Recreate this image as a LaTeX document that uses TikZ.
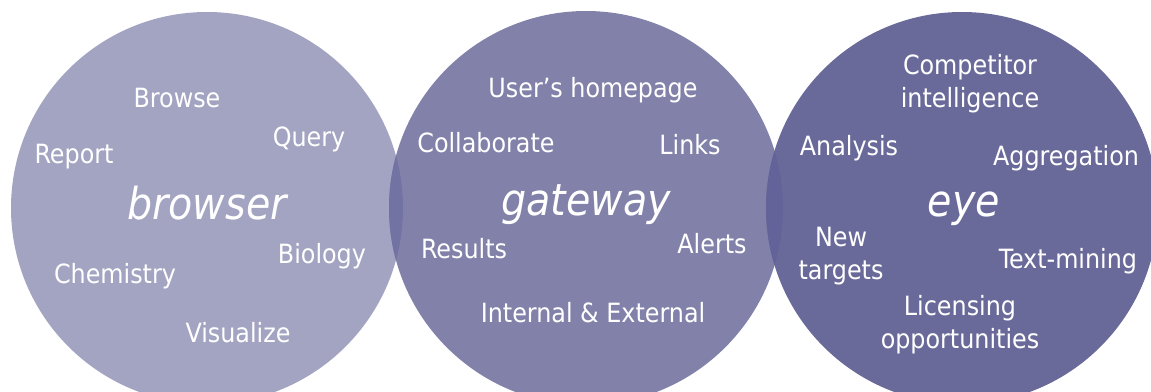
\documentclass[tikz,border=0pt]{standalone}
\usepackage{fontspec}
\setmainfont{DejaVu Sans Condensed}
\definecolor{bubA}{HTML}{A3A3C2}
\definecolor{bubB}{HTML}{8281A9}
\definecolor{bubC}{HTML}{6A6A9A}
\definecolor{lensAB}{HTML}{7373A3}
\definecolor{lensBC}{HTML}{63639A}
\begin{document}
\begin{tikzpicture}[x=1pt,y=-1pt,
  every node/.style={font=\fontsize{26.5}{33}\selectfont,text=white,inner sep=0pt,anchor=base,align=center},
  title/.style={font=\fontsize{44}{50}\selectfont\itshape}]
\useasboundingbox (0,0) rectangle (1151,391);
% bubbles
\fill[bubA] (207,208) circle (196pt);
\fill[bubB] (586,208) circle (197pt);
\fill[bubC] (962,208) circle (196pt);
\begin{scope}
  \clip (207,208) circle (196pt);
  \fill[lensAB] (586,208) circle (197pt);
\end{scope}
\begin{scope}
  \clip (586,208) circle (197pt);
  \fill[lensBC] (962,208) circle (196pt);
\end{scope}
% browser
\node[title] (browser) at (207,219) {browser};
\node (browse) at (177,107) {Browse};
\node (query) at (309,146) {Query};
\node (report) at (74,163) {Report};
\node (biology) at (322,263) {Biology};
\node (chemistry) at (115,283) {Chemistry};
\node (visualize) at (238,342) {Visualize};
% gateway
\node[title] (gateway) at (586,215) {gateway};
\node (homepage) at (593,97) {User’s homepage};
\node (collab) at (486,152) {Collaborate};
\node (links) at (690,154) {Links};
\node (results) at (464,258) {Results};
\node (alerts) at (712,253) {Alerts};
\node (intext) at (593,322) {Internal \& External};
% eye
\node[title] (eye) at (964,216) {eye};
\node (competitor) at (970,107) {Competitor\\intelligence};
\node (analysis) at (849,155) {Analysis};
\node (aggregation) at (1066,165) {Aggregation};
\node (newtargets) at (841,279) {New\\targets};
\node (textmining) at (1068,268) {Text-mining};
\node (licensing) at (960,348) {Licensing\\opportunities};
\end{tikzpicture}
\end{document}
